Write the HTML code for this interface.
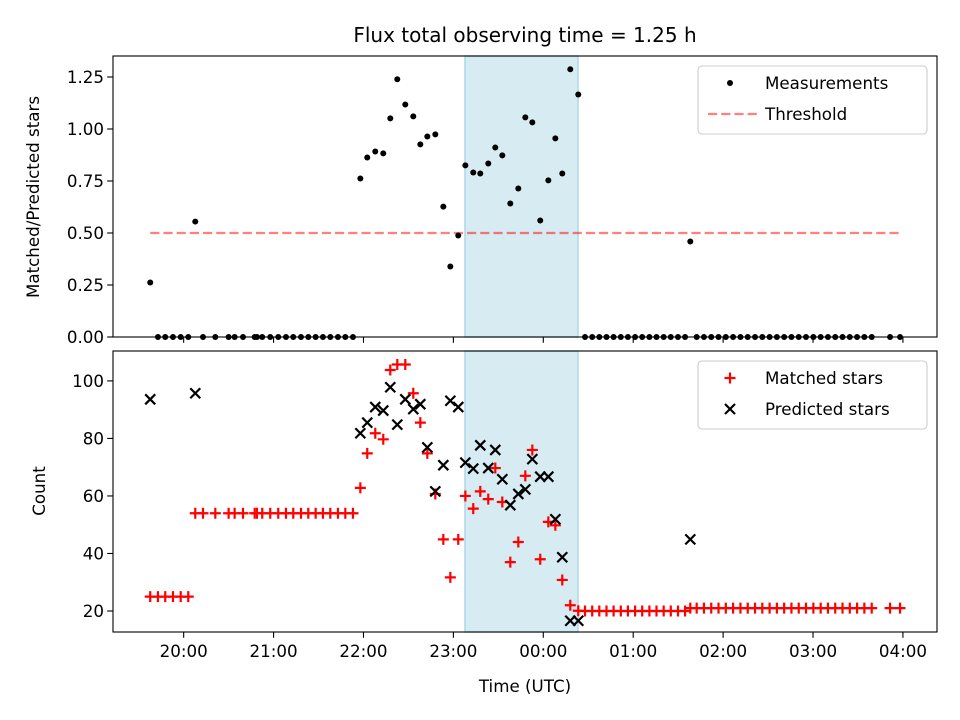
<!DOCTYPE html>
<html><head><meta charset="utf-8"><style>
html,body{margin:0;padding:0;background:#fff;}
svg{display:block;font-family:"DejaVu Sans","Liberation Sans",sans-serif;}
</style></head><body>
<svg id="fig" width="960" height="720" viewBox="0 0 960 720" xmlns="http://www.w3.org/2000/svg"></svg>
<script>
// decimal hours (values >24 mean the next day)
const times = [19.628,19.714,19.795,19.881,19.967,20.051,
20.129,20.215,20.352,20.50,20.567,20.66,20.79,20.815,20.874,20.963,21.052,21.138,21.219,21.305,21.386,21.468,21.549,21.631,21.716,21.798,21.883,
21.965,22.042,22.131,22.22,22.298,22.376,22.465,22.554,22.632,22.71,22.799,22.888,22.966,23.054,23.133,23.221,23.299,23.388,23.466,23.544,23.633,23.722,23.8,23.878,23.966,24.056,24.134,24.211,24.3,24.389,
24.464,24.544,24.623,24.703,24.782,24.862,24.941,25.021,25.100,25.180,25.259,25.339,25.418,25.498,25.577,
25.635,
25.706,25.787,25.868,25.949,26.030,26.111,26.193,26.274,26.355,26.436,26.517,26.598,26.679,26.760,26.841,26.922,27.004,27.085,27.166,27.247,27.328,27.409,27.490,27.571,27.653,
27.857,27.968];
const ratios = [0.262,0,0,0,0,0,
0.555,0,0,0,0,0,0,0,0,0,0,0,0,0,0,0,0,0,0,0,0,
0.762,0.863,0.892,0.883,1.051,1.239,1.118,1.061,0.926,0.964,0.974,0.627,0.339,0.488,0.825,0.791,0.786,0.834,0.911,0.873,0.642,0.714,1.056,1.032,0.560,0.753,0.955,0.786,1.287,1.166,
0,0,0,0,0,0,0,0,0,0,0,0,0,0,0,
0.459,
0,0,0,0,0,0,0,0,0,0,0,0,0,0,0,0,0,0,0,0,0,0,0,0,0,
0,0];
const matched = [25,25,25,25,25,25,
54,54,54,54,54,54,54,54,54,54,54,54,54,54,54,54,54,54,54,54,54,
62.8,74.8,81.8,79.7,103.8,105.7,105.7,95.7,85.5,74.8,60.7,44.9,31.7,44.9,60,55.6,61.6,58.9,69.7,57.9,37,44,67,76,38,51,49.8,30.8,22,20.1,
20,20,20,20,20,20,20,20,20,20,20,20,20,20,20,
21,
21,21,21,21,21,21,21,21,21,21,21,21,21,21,21,21,21,21,21,21,21,21,21,21,21,
21,21];
const predicted = [93.6,null,null,null,null,null,
95.7,null,null,null,null,null,null,null,null,null,null,null,null,null,null,null,null,null,null,null,null,
81.8,85.5,90.9,89.7,97.8,84.8,93.6,90.2,91.9,76.9,61.6,70.7,93.1,90.9,71.6,69.5,77.6,69.7,76,65.8,56.8,60.7,62.3,72.8,66.7,66.7,51.9,38.7,16.6,16.6,
null,null,null,null,null,null,null,null,null,null,null,null,null,null,null,
44.9,
null,null,null,null,null,null,null,null,null,null,null,null,null,null,null,null,null,null,null,null,null,null,null,null,null,
null,null];
const threshold = 0.5;
const shadeRange = [23.129, 24.386];
const xTicks = [20,21,22,23,24,25,26,27,28];
const xTickLabels = ["20:00","21:00","22:00","23:00","00:00","01:00","02:00","03:00","04:00"];
const topTicks = [0,0.25,0.5,0.75,1.0,1.25];
const topTickLabels = ["0.00","0.25","0.50","0.75","1.00","1.25"];
const botTicks = [20,40,60,80,100];
const botTickLabels = ["20","40","60","80","100"];

const NS="http://www.w3.org/2000/svg";
const svg=document.getElementById('fig');
function mk(tag,attrs,parent){const e=document.createElementNS(NS,tag);for(const k in attrs)e.setAttribute(k,attrs[k]);(parent||svg).appendChild(e);return e;}
const L=113,R=937;
const xMin=19.214,xMax=28.379;
const X=t=>L+(t-xMin)/(xMax-xMin)*(R-L);
const topAx={t:56,b:337,min:0,max:1.351};
const botAx={t:351,b:632,min:12.7,max:110.4};
const Y=(ax,v)=>ax.b-(v-ax.min)/(ax.max-ax.min)*(ax.b-ax.t);
const fs=16.7;

function axesFrame(ax,name,ticks,labels,showX){
  const g=mk('g',{});
  
  
  const sh=mk('rect',{x:X(shadeRange[0]),y:ax.t,width:X(shadeRange[1])-X(shadeRange[0]),height:ax.b-ax.t,fill:'#add8e6','fill-opacity':0.5,stroke:'#add8e6','stroke-width':1.5},g);
  
  
  ticks.forEach((v,i)=>{
    const y=Y(ax,v);
    mk('line',{x1:L-5.8,x2:L,y1:y,y2:y,stroke:'#000','stroke-width':1.1},g);
    const tx=mk('text',{x:L-9,y:y+6,'text-anchor':'end','font-size':fs,fill:'#000'},g);
    tx.textContent=labels[i];
    
    
  });
  xTicks.forEach((t,i)=>{
    const x=X(t);
    mk('line',{x1:x,x2:x,y1:ax.b,y2:ax.b+5.8,stroke:'#000','stroke-width':1.1},g);
    if(showX){
      const tx=mk('text',{x:x,y:ax.b+25,'text-anchor':'middle','font-size':fs,fill:'#000'},g);
      tx.textContent=xTickLabels[i];
      
      
    }
  });
  return g;
}

// Top panel
const gTop=axesFrame(topAx,'ratio-axes',topTicks,topTickLabels,false);
const clipT=mk('clipPath',{id:'ct'});mk('rect',{x:L,y:topAx.t,width:R-L,height:topAx.b-topAx.t+4},clipT);
const thr=mk('line',{x1:X(times[0]),x2:X(times[times.length-1]),y1:Y(topAx,threshold),y2:Y(topAx,threshold),stroke:'#ff0000','stroke-opacity':0.5,'stroke-width':2.2,'stroke-dasharray':'9.2,4'},gTop);


const dotsG=mk('g',{'clip-path':'url(#ct)'},gTop);
times.forEach((t,i)=>{
  const c=mk('circle',{cx:X(t),cy:Y(topAx,ratios[i]),r:3,fill:'#000'},dotsG);
  
  
});
mk('rect',{x:L,y:topAx.t,width:R-L,height:topAx.b-topAx.t,fill:'none',stroke:'#000','stroke-width':1.1},gTop);

// Bottom panel
const gBot=axesFrame(botAx,'count-axes',botTicks,botTickLabels,true);
const clipB=mk('clipPath',{id:'cb'});mk('rect',{x:L,y:botAx.t,width:R-L,height:botAx.b-botAx.t},clipB);
const mg=mk('g',{'clip-path':'url(#cb)'},gBot);
times.forEach((t,i)=>{
  const x=X(t),y=Y(botAx,matched[i]),s=5.5;
  const p=mk('path',{d:`M${x-s},${y}H${x+s}M${x},${y-s}V${y+s}`,stroke:'#ff0000','stroke-width':2.2,fill:'none'},mg);
  
  
});
times.forEach((t,i)=>{
  if(predicted[i]===null)return;
  const x=X(t),y=Y(botAx,predicted[i]),s=5;
  const p=mk('path',{d:`M${x-s},${y-s}L${x+s},${y+s}M${x-s},${y+s}L${x+s},${y-s}`,stroke:'#000','stroke-width':2.2,fill:'none'},mg);
  
  
});
mk('rect',{x:L,y:botAx.t,width:R-L,height:botAx.b-botAx.t,fill:'none',stroke:'#000','stroke-width':1.1},gBot);

// Legends
function legend(name,y0,entries){
  const g=mk('g',{});
  
  
  mk('rect',{x:698,y:y0,width:229,height:68,rx:4,fill:'#fff','fill-opacity':0.8,stroke:'#ccc','stroke-width':1.1},g);
  entries.forEach((e,i)=>{
    const cy=y0+17+i*31;
    const eg=mk('g',{},g);
    
    
    e.draw(eg,730,cy);
    const tx=mk('text',{x:765,y:cy+6,'font-size':fs,fill:'#000'},eg);
    tx.textContent=e.label;
  });
}
legend('ratio-legend',66,[
  {label:'Measurements',draw:(g,x,y)=>mk('circle',{cx:x,cy:y,r:3,fill:'#000'},g)},
  {label:'Threshold',draw:(g,x,y)=>mk('line',{x1:x-22,x2:x+28,y1:y,y2:y,stroke:'#ff0000','stroke-opacity':0.5,'stroke-width':2.2,'stroke-dasharray':'9.2,4'},g)}
]);
legend('count-legend',361,[
  {label:'Matched stars',draw:(g,x,y)=>mk('path',{d:`M${x-5.5},${y}H${x+5.5}M${x},${y-5.5}V${y+5.5}`,stroke:'#f00','stroke-width':2.2},g)},
  {label:'Predicted stars',draw:(g,x,y)=>mk('path',{d:`M${x-5},${y-5}L${x+5},${y+5}M${x-5},${y+5}L${x+5},${y-5}`,stroke:'#000','stroke-width':2.2},g)}
]);

// Titles / labels
const title=mk('text',{x:525,y:42,'text-anchor':'middle','font-size':20,fill:'#000'});
title.textContent='Flux total observing time = 1.25 h';


const xl=mk('text',{x:525,y:692,'text-anchor':'middle','font-size':fs,fill:'#000'});
xl.textContent='Time (UTC)';


const yl1=mk('text',{x:0,y:0,'text-anchor':'middle','font-size':fs,fill:'#000',transform:'translate(39,197) rotate(-90)'});
yl1.textContent='Matched/Predicted stars';


const yl2=mk('text',{x:0,y:0,'text-anchor':'middle','font-size':fs,fill:'#000',transform:'translate(45,491) rotate(-90)'});
yl2.textContent='Count';


</script>
</body></html>
